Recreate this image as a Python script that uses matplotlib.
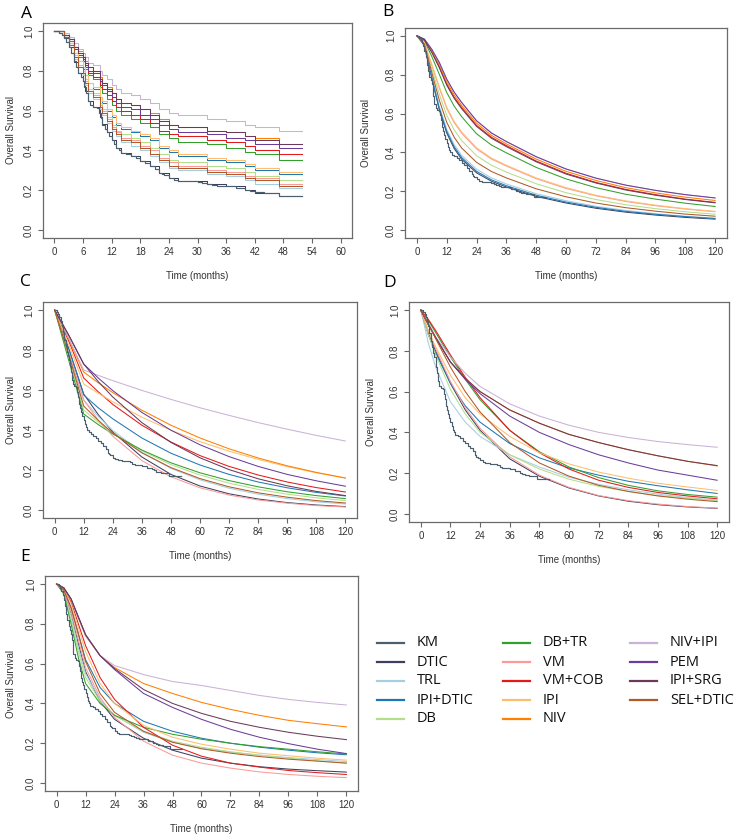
import matplotlib
matplotlib.use("Agg")
import matplotlib.pyplot as plt
from matplotlib.lines import Line2D

# ---------------- data ----------------
TREATMENTS = ['KM', 'DTIC', 'TRL', 'IPI+DTIC', 'DB', 'DB+TR', 'VM', 'VM+COB',
              'IPI', 'NIV', 'NIV+IPI', 'PEM', 'IPI+SRG', 'SEL+DTIC']
COLORS = ['#4A6070', '#3E3F5E', '#A6CEE3', '#1F78B4', '#B2DF8A', '#33A02C', '#FB9A99',
          '#E31A1C', '#FDBF6F', '#FF7F00', '#CAB2D6', '#6A3D9A', '#6B3A5A', '#B15928']

# Kaplan-Meier (observed) curve
KM_T = [0, 1, 1.5, 2, 2.5, 3, 3.5, 4, 4.5, 5, 5.5, 6, 6.3, 6.6, 7, 7.5, 8, 9, 9.4, 9.7,
        10, 10.5, 11, 11.5, 12, 12.5, 13, 13.5, 14, 15, 16, 17, 18, 19, 20, 21, 22, 22.5,
        23, 24, 25, 26, 28, 30, 31, 32, 33, 34, 36, 38, 40, 41, 42, 44, 47, 52]
KM_S = [1, .99, .98, .965, .945, .92, .89, .85, .82, .79, .77, .75, .72, .69, .65, .63, .62,
        .615, .59, .565, .53, .51, .49, .47, .45, .43, .414, .40, .389, .38, .372, .36, .346,
        .335, .321, .307, .287, .28, .274, .262, .253, .248, .246, .243, .238, .231, .227,
        .223, .22, .211, .203, .198, .191, .186, .169, .169]

# Panel A: adjusted step curves (end of follow-up at A_END)
A_T = [0, 2, 3, 4, 5, 6, 6.5, 7, 8, 9.5, 10, 11, 12, 13, 14, 16, 18, 20, 22, 24, 26, 32, 36, 40, 42, 47]
A_END = 52
PANEL_A = {
    'DTIC':     [1, .965, .92, .845, .79, .75, .70, .65, .62, .566, .532, .49, .45, .414, .389, .372, .346, .321, .287, .262, .248, .231, .22, .203, .188, .169],
    'TRL':      [1, .97, .93, .86, .82, .78, .73, .69, .66, .61, .58, .54, .50, .47, .44, .42, .40, .37, .34, .31, .30, .28, .27, .25, .23, .21],
    'IPI+DTIC': [1, .97, .94, .89, .85, .81, .78, .74, .71, .67, .64, .60, .57, .53, .51, .49, .47, .45, .41, .39, .37, .35, .34, .32, .30, .28],
    'DB':       [1, .97, .94, .88, .83, .80, .76, .71, .69, .64, .61, .57, .53, .50, .48, .46, .44, .41, .38, .35, .34, .32, .31, .29, .27, .25],
    'DB+TR':    [1, .98, .95, .91, .87, .85, .81, .78, .76, .72, .69, .66, .63, .60, .58, .56, .54, .52, .48, .46, .44, .43, .41, .39, .38, .35],
    'VM':       [1, .97, .93, .87, .83, .79, .75, .70, .68, .63, .60, .56, .52, .49, .46, .45, .42, .40, .36, .34, .32, .30, .29, .27, .26, .23],
    'VM+COB':   [1, .98, .96, .91, .88, .85, .82, .79, .77, .73, .71, .68, .65, .62, .60, .58, .56, .54, .50, .48, .47, .45, .44, .42, .40, .38],
    'IPI':      [1, .98, .94, .89, .85, .82, .78, .74, .72, .67, .65, .61, .58, .54, .52, .50, .48, .46, .42, .40, .38, .36, .35, .33, .31, .29],
    'NIV':      [1, .98, .96, .92, .90, .87, .85, .82, .80, .77, .74, .72, .69, .66, .64, .63, .61, .59, .56, .53, .52, .50, .49, .47, .46, .43],
    'NIV+IPI':  [1, .99, .97, .94, .91, .89, .87, .84, .83, .80, .78, .76, .73, .71, .69, .68, .66, .64, .61, .59, .58, .56, .55, .53, .52, .50],
    'PEM':      [1, .98, .96, .92, .89, .86, .83, .80, .79, .75, .73, .70, .67, .64, .62, .61, .58, .56, .53, .51, .49, .48, .46, .45, .43, .41],
    'IPI+SRG':  [1, .98, .96, .92, .89, .87, .84, .82, .80, .76, .74, .71, .69, .66, .64, .63, .61, .58, .55, .53, .52, .50, .49, .47, .45, .43],
    'SEL+DTIC': [1, .97, .93, .87, .82, .79, .74, .70, .67, .62, .59, .55, .51, .48, .45, .44, .41, .38, .35, .32, .31, .29, .28, .26, .25, .22],
}

B_T = [0, 3, 6, 9, 12, 15, 18, 24, 30, 36, 48, 60, 72, 84, 96, 108, 120]
PANEL_B = {
    'DTIC':     [1, .95, .78, .62, .50, .42, .365, .295, .252, .222, .174, .14, .113, .093, .078, .066, .057],
    'TRL':      [1, .952, .79, .637, .519, .44, .385, .314, .269, .238, .188, .152, .123, .102, .085, .072, .062],
    'IPI+DTIC': [1, .951, .785, .627, .508, .429, .374, .303, .259, .229, .180, .145, .118, .097, .082, .070, .060],
    'DB':       [1, .961, .830, .700, .591, .516, .461, .383, .334, .299, .239, .193, .158, .131, .111, .095, .082],
    'DB+TR':    [1, .975, .893, .802, .708, .638, .584, .496, .438, .398, .323, .264, .219, .185, .160, .139, .122],
    'VM':       [1, .965, .849, .732, .627, .553, .499, .418, .366, .330, .265, .215, .177, .148, .126, .109, .095],
    'VM+COB':   [1, .980, .917, .841, .752, .684, .631, .539, .478, .435, .356, .293, .246, .210, .183, .160, .143],
    'IPI':      [1, .966, .852, .737, .633, .559, .505, .424, .371, .334, .269, .219, .180, .151, .129, .111, .097],
    'NIV':      [1, .981, .923, .851, .763, .696, .642, .550, .488, .444, .366, .303, .256, .219, .192, .170, .153],
    'NIV+IPI':  [1, .983, .930, .863, .777, .710, .657, .563, .500, .456, .378, .315, .268, .232, .205, .183, .166],
    'PEM':      [1, .983, .930, .863, .777, .710, .657, .563, .500, .456, .378, .315, .268, .232, .205, .183, .166],
    'IPI+SRG':  [1, .979, .914, .836, .746, .678, .625, .534, .473, .430, .352, .289, .243, .207, .180, .158, .141],
    'SEL+DTIC': [1, .957, .810, .669, .555, .478, .423, .349, .302, .269, .213, .172, .140, .116, .098, .083, .072],
}

C_T = [0, 6, 12, 18, 24, 36, 48, 60, 72, 84, 96, 108, 120]
PANEL_C = {
    'DTIC':     [1, .80, .58, .477, .39, .265, .178, .12, .081, .055, .037, .025, .017],
    'TRL':      [1, .78, .55, .468, .398, .288, .208, .151, .109, .079, .057, .041, .03],
    'IPI+DTIC': [1, .80, .575, .511, .456, .36, .284, .225, .178, .14, .111, .088, .07],
    'DB':       [1, .76, .50, .439, .384, .296, .227, .175, .134, .103, .079, .061, .047],
    'DB+TR':    [1, .74, .48, .427, .38, .30, .236, .186, .147, .116, .091, .072, .057],
    'VM':       [1, .78, .55, .45, .369, .247, .166, .111, .0745, .05, .034, .022, .015],
    'VM+COB':   [1, .84, .66, .591, .528, .424, .34, .272, .218, .175, .14, .112, .09],
    'IPI':      [1, .82, .63, .584, .541, .464, .399, .342, .294, .253, .217, .186, .16],
    'NIV':      [1, .85, .69, .636, .587, .499, .424, .36, .306, .26, .221, .188, .16],
    'NIV+IPI':  [1, .855, .70, .673, .647, .598, .553, .511, .473, .437, .404, .373, .345],
    'PEM':      [1, .87, .73, .66, .597, .488, .399, .326, .267, .218, .178, .146, .119],
    'IPI+SRG':  [1, .87, .73, .642, .565, .437, .338, .261, .202, .156, .121, .093, .072],
    'SEL+DTIC': [1, .77, .52, .448, .385, .286, .212, .157, .116, .086, .064, .047, .035],
}

D_T = [0, 3, 6, 12, 18, 24, 36, 48, 60, 72, 84, 96, 108, 120]
PANEL_D = {
    'DTIC':     [1, .89, .80, .64, .51, .41, .27, .185, .127, .088, .062, .045, .034, .027],
    'TRL':      [1, .84, .72, .55, .45, .38, .29, .23, .18, .145, .118, .097, .08, .066],
    'IPI+DTIC': [1, .88, .79, .64, .53, .45, .345, .275, .225, .19, .16, .138, .118, .10],
    'DB':       [1, .88, .78, .61, .49, .40, .29, .22, .17, .135, .11, .09, .077, .066],
    'DB+TR':    [1, .95, .89, .77, .66, .56, .41, .305, .23, .178, .14, .113, .095, .082],
    'VM':       [1, .90, .81, .65, .52, .42, .28, .19, .13, .09, .065, .048, .036, .028],
    'VM+COB':   [1, .955, .90, .78, .67, .57, .41, .30, .22, .165, .13, .105, .088, .074],
    'IPI':      [1, .90, .82, .68, .57, .49, .38, .30, .245, .205, .175, .15, .132, .115],
    'NIV':      [1, .93, .865, .745, .665, .60, .51, .445, .39, .35, .315, .285, .258, .235],
    'NIV+IPI':  [1, .94, .87, .77, .69, .625, .54, .48, .435, .40, .375, .355, .34, .327],
    'PEM':      [1, .93, .865, .745, .66, .59, .48, .40, .34, .29, .25, .215, .19, .165],
    'IPI+SRG':  [1, .93, .865, .745, .665, .60, .51, .445, .39, .35, .315, .285, .258, .237],
    'SEL+DTIC': [1, .93, .86, .72, .60, .50, .35, .25, .185, .14, .11, .088, .072, .06],
}

E_T = [0, 3, 6, 9, 12, 18, 24, 36, 48, 60, 72, 84, 96, 108, 120]
PANEL_E = {
    'DTIC':     [1, .96, .85, .70, .56, .41, .32, .225, .165, .125, .10, .082, .07, .062, .055],
    'TRL':      [1, .96, .84, .68, .55, .42, .34, .255, .205, .175, .155, .14, .128, .118, .108],
    'IPI+DTIC': [1, .97, .88, .75, .62, .48, .40, .31, .26, .225, .20, .18, .165, .152, .142],
    'DB':       [1, .955, .82, .66, .53, .41, .34, .26, .21, .18, .157, .14, .125, .112, .10],
    'DB+TR':    [1, .95, .80, .63, .50, .40, .34, .28, .245, .22, .20, .183, .17, .157, .146],
    'VM':       [1, .965, .86, .72, .58, .43, .33, .21, .14, .10, .075, .056, .043, .034, .027],
    'VM+COB':   [1, .98, .91, .80, .69, .53, .42, .28, .19, .135, .10, .08, .063, .052, .043],
    'IPI':      [1, .975, .90, .78, .66, .50, .40, .29, .23, .195, .17, .15, .137, .125, .115],
    'NIV':      [1, .98, .92, .83, .74, .64, .58, .50, .45, .405, .37, .34, .315, .298, .282],
    'NIV+IPI':  [1, .98, .92, .83, .74, .64, .59, .545, .51, .49, .465, .44, .42, .405, .392],
    'PEM':      [1, .98, .925, .835, .745, .64, .57, .45, .38, .32, .27, .23, .198, .17, .148],
    'IPI+SRG':  [1, .98, .925, .835, .745, .64, .575, .47, .40, .35, .31, .28, .255, .235, .218],
    'SEL+DTIC': [1, .97, .88, .75, .61, .45, .355, .26, .205, .172, .15, .133, .12, .11, .10],
}

# ---------------- figure ----------------
W, H = 737, 835
fig = plt.figure(figsize=(W / 100, H / 100), dpi=100)
COLOR_OF = dict(zip(TREATMENTS, COLORS))
LW = 0.75


def px_axes(left, top, right, bottom):
    return fig.add_axes([left / W, 1 - bottom / H, (right - left) / W, (bottom - top) / H])


def style(ax, xmax, step, ypad):
    ax.set_xlim(-0.04 * xmax, 1.04 * xmax)
    ax.set_ylim(-0.04, 1.04)
    ax.set_xticks(range(0, xmax + 1, step))
    ax.set_yticks([0, 0.2, 0.4, 0.6, 0.8, 1.0])
    ax.set_yticklabels(['0.0', '0.2', '0.4', '0.6', '0.8', '1.0'], rotation=90, va='center')
    for lab in ax.get_xticklabels() + ax.get_yticklabels():
        lab.set_fontfamily('Liberation Sans')
        lab.set_fontsize(7)
        lab.set_color('#333333')
    ax.tick_params(length=3.5, width=0.8, color='#666666', pad=3)
    for s in ax.spines.values():
        s.set_color('#6a6a6a')
        s.set_linewidth(0.9)
    ax.set_xlabel('Time (months)', fontsize=7, family='Liberation Sans', color='#333333', labelpad=10)
    ax.set_ylabel('Overall Survival', fontsize=7, family='Liberation Sans', color='#333333', labelpad=ypad)


def draw_km(ax):
    ax.plot(KM_T, KM_S, drawstyle='steps-post', color=COLOR_OF['KM'], lw=0.85, zorder=5)


# Panel A
axA = px_axes(43, 23, 352, 238)
for name in TREATMENTS[1:]:
    vals = PANEL_A[name]
    axA.plot(A_T + [A_END], vals + [vals[-1]], drawstyle='steps-post', color=COLOR_OF[name], lw=LW)
draw_km(axA)
style(axA, 60, 6, 5.5)

# Panels B-E
for (l, t, r, b), T, data, ypad in [((405, 28, 727, 238), B_T, PANEL_B, 10.5),
                                     ((43, 302, 357, 518), C_T, PANEL_C, 5.5),
                                     ((409, 302, 729, 522), D_T, PANEL_D, 10),
                                     ((45, 576, 358, 791), E_T, PANEL_E, 7)]:
    ax = px_axes(l, t, r, b)
    for name in TREATMENTS[1:]:
        ax.plot(T, data[name], color=COLOR_OF[name], lw=LW)
    draw_km(ax)
    style(ax, 120, 12, ypad)

# Panel letters
for letter, x, y in [('A', 21, 6), ('B', 382, 4), ('C', 20, 274), ('D', 383, 275), ('E', 20, 549)]:
    fig.text(x / W, 1 - y / H, letter, fontsize=12.5, family='Open Sans', va='top', ha='left')

# Legend (3 columns x 5 rows)
col_x = [377, 503, 630]
row_y = [643, 662, 681, 700, 719]
for i, (name, c) in enumerate(zip(TREATMENTS, COLORS)):
    cx = col_x[i // 5]
    cy = row_y[i % 5]
    fig.add_artist(Line2D([cx / W, (cx + 27) / W], [1 - cy / H, 1 - cy / H], color=c, lw=1.6,
                          transform=fig.transFigure))
    fig.text((cx + 40) / W, 1 - cy / H, name, fontsize=10.5, family='Open Sans',
             va='center', ha='left', color='#111111')

fig.savefig('out.png', dpi=100)
